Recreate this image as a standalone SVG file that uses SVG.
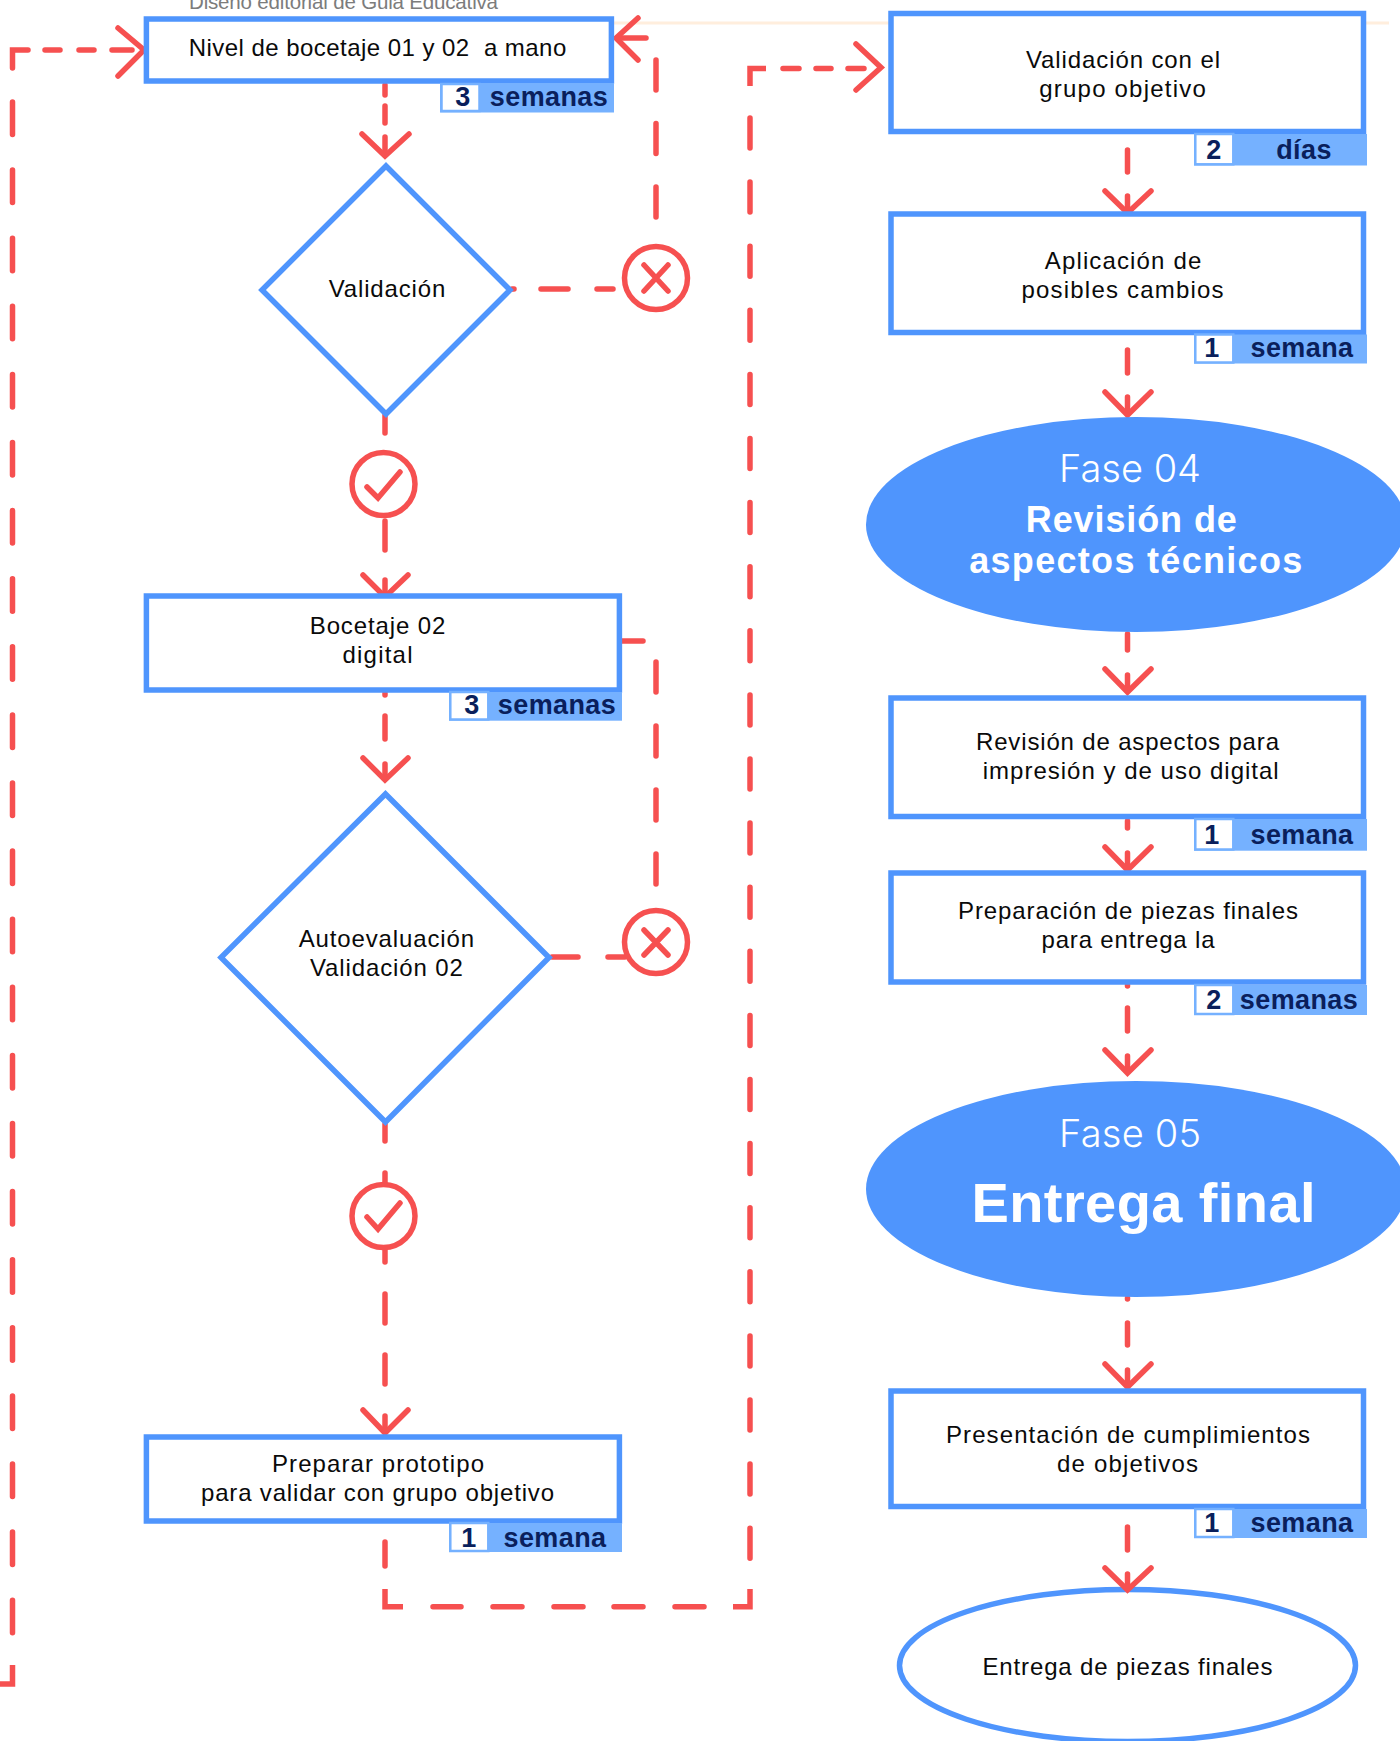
<svg xmlns="http://www.w3.org/2000/svg" width="1400" height="1741" viewBox="0 0 1400 1741">
<style>
text{font-family:"Liberation Sans",Arial,sans-serif;text-anchor:middle;fill:#0a0a0a;font-size:24px}
.box{fill:#fff;stroke:#4f95fd;stroke-width:5.5}
.bw{fill:#fff;stroke:#75b1ff;stroke-width:2.5}
.bb{fill:#75b1ff}
text.bt{font-weight:700;fill:#0a1f5c;font-size:27px;letter-spacing:.4px}
text.ph{fill:#fff;font-size:38px;font-family:Inter,"Liberation Sans",sans-serif;font-weight:300}
text.pb{fill:#fff;font-weight:700;font-size:36px}
.s{fill:none;stroke:#f65050;stroke-width:5.5;stroke-linecap:round;stroke-linejoin:miter}
.ci{fill:#fff;stroke:#f65050;stroke-width:5.5}
</style>
<rect width="1400" height="1741" fill="#fff"/>
<path d="M611 23H891M1364 23H1389" stroke="#ffeedd" stroke-width="3" fill="none"/>
<text x="343.5" y="8.5" style="font-size:20.5px;fill:#7c7c7c" textLength="309">Diseño editorial de Guia Educativa</text>
<g id="connectors">
<path class="s" style="stroke-linecap:butt" d="M0 1684H12.5V1665"/>
<path class="s" stroke-dasharray="32.5 35.6" d="M12.5 102V1634"/>
<path class="s" d="M12.5 68V50H28M45 50H60M79 50H94M112 50H132"/>
<path class="s" d="M118 28L144 50L118 76"/>
<path class="s" stroke-dasharray="30 33.5" d="M656 60V218"/>
<path class="s" d="M646 38H617"/>
<path class="s" d="M638 18L616 38L638 60"/>
<path class="s" d="M512 289H514M541 289H568M597 289H613"/>
<path class="s" d="M385 85V95M385 106V123M385 137V151"/>
<path class="s" d="M362 134L385 156L409 134"/>
<path class="s" d="M385 415V433M385 521V550M385 580V592"/>
<path class="s" d="M363 575L385 597L408 575"/>
<path class="s" d="M385 693V695M385 716V739M385 764V776"/>
<path class="s" d="M363 758L385 780L408 758"/>
<path class="s" d="M622 641H643"/>
<path class="s" stroke-dasharray="30 34" d="M656 662V885"/>
<path class="s" d="M552 957H578M608 957H625"/>
<path class="s" d="M385 1124V1141M385 1173V1183M385 1250V1262M385 1294V1323M385 1355V1384M385 1416V1429"/>
<path class="s" d="M363 1410L385 1433L408 1410"/>
<path class="s" stroke-dasharray="30 34.1" d="M750 118V1559"/>
<path class="s" style="stroke-linecap:butt" d="M385 1589V1606.7H403M750 1589V1606.7H733"/>
<path class="s" d="M385 1542V1566M433 1606.7H461M493 1606.7H522M554 1606.7H583M614 1606.7H643M675 1606.7H704"/>
<path class="s" style="stroke-linecap:butt" d="M750 86V68.5H766"/>
<path class="s" d="M783 68.5H799M816 68.5H831M848 68.5H864"/>
<path class="s" d="M856 44L881 67.5L856 90"/>
<path class="s" d="M1127.5 150V172M1127.5 196V209"/>
<path class="s" d="M1105 191L1127.5 213L1151 191"/>
<path class="s" d="M1127.5 350V373M1127.5 397V410"/>
<path class="s" d="M1105 392L1127.5 415L1151 392"/>
<path class="s" d="M1127.5 634V650M1127.5 675V686"/>
<path class="s" d="M1105 669L1127.5 692L1151 669"/>
<path class="s" d="M1127.5 821V828M1127.5 853V868"/>
<path class="s" d="M1105 847L1127.5 870L1151 847"/>
<path class="s" d="M1127.5 985V986M1127.5 1008V1031M1127.5 1056V1068"/>
<path class="s" d="M1105 1050L1127.5 1073L1151 1050"/>
<path class="s" d="M1127.5 1298V1299M1127.5 1323V1345M1127.5 1370V1383"/>
<path class="s" d="M1105 1364L1127.5 1387L1151 1364"/>
<path class="s" d="M1127.5 1527V1550"/>
</g>
<g id="n1"><rect class="box" x="146.400" y="19" width="465" height="62"/><rect class="bb" x="440" y="83" width="174" height="29.500"/><rect class="bw" x="441.500" y="84" width="38" height="27"/><text x="377.500" y="56" textLength="377.500" xml:space="preserve" style="white-space:pre">Nivel de bocetaje 01 y 02  a mano</text><text class="bt" x="463" y="106">3</text><text class="bt" x="549" y="106">semanas</text></g>
<g id="d1"><path class="box" d="M386 166L510 290L386 414L262 290Z"/><text x="387" y="297" textLength="116.600">Validación</text></g>
<g id="x1"><circle class="ci" cx="656" cy="278" r="31.500"/><path class="s" d="M644 265L668 291M668 265L644 291"/></g>
<g id="ok1"><circle class="ci" cx="383.500" cy="484" r="31.500"/><path class="s" d="M367 487L378 498L400 472"/></g>
<g id="n2"><rect class="box" x="146.400" y="596" width="473" height="94"/><rect class="bb" x="449" y="692" width="173" height="28.700"/><rect class="bw" x="450.300" y="692" width="38" height="27.500"/><text x="377.500" y="634" textLength="135.500">Bocetaje 02</text><text x="377.500" y="663" textLength="70">digital</text><text class="bt" x="472" y="714">3</text><text class="bt" x="557" y="714">semanas</text></g>
<g id="d2"><path class="box" d="M385.500 794L549 957.500L385.500 1122L221 957.500Z"/><text x="386.400" y="947" textLength="175.400">Autoevaluación</text><text x="386.400" y="976" textLength="153">Validación 02</text></g>
<g id="x2"><circle class="ci" cx="656" cy="942" r="31.500"/><path class="s" d="M644 930L668 955M668 930L644 955"/></g>
<g id="ok2"><circle class="ci" cx="383.500" cy="1216" r="31.500"/><path class="s" d="M367 1217L378 1229L400 1203"/></g>
<g id="n3"><rect class="box" x="146.400" y="1437" width="473" height="84"/><rect class="bb" x="449" y="1523" width="173" height="29"/><rect class="bw" x="450.300" y="1523" width="38" height="28"/><text x="378" y="1472" textLength="212">Preparar prototipo</text><text x="377.500" y="1501" textLength="353">para validar con grupo objetivo</text><text class="bt" x="469" y="1547">1</text><text class="bt" x="555" y="1547">semana</text></g>
<g id="n4"><rect class="box" x="891" y="13.500" width="472.500" height="118"/><rect class="bb" x="1194" y="134" width="173" height="31.500"/><rect class="bw" x="1195.300" y="134" width="38" height="30.300"/><text x="1123" y="68" textLength="194">Validación con el</text><text x="1122.500" y="97" textLength="166.500">grupo objetivo</text><text class="bt" x="1214" y="159">2</text><text class="bt" x="1304" y="159">días</text></g>
<g id="n5"><rect class="box" x="891" y="214" width="472.500" height="118.500"/><rect class="bb" x="1194" y="334.500" width="173" height="29"/><rect class="bw" x="1195.300" y="334.500" width="38" height="28"/><text x="1123" y="269" textLength="156.500">Aplicación de</text><text x="1122.500" y="298" textLength="202">posibles cambios</text><text class="bt" x="1212" y="357">1</text><text class="bt" x="1302" y="357">semana</text></g>
<g id="f4"><ellipse cx="1136" cy="524.500" rx="270" ry="107.500" fill="#4f95fd"/><text class="ph" x="1130" y="482" textLength="142">Fase 04</text><text class="pb" x="1131.300" y="532" textLength="211">Revisión de</text><text class="pb" x="1135.700" y="573" textLength="333">aspectos técnicos</text></g>
<g id="n6"><rect class="box" x="891" y="698" width="472.500" height="118.500"/><rect class="bb" x="1194" y="819" width="173" height="31.700"/><rect class="bw" x="1195.300" y="819" width="38" height="30.500"/><text x="1127.500" y="750" textLength="303">Revisión de aspectos para</text><text x="1130.700" y="779" textLength="296">impresión y de uso digital</text><text class="bt" x="1212" y="844">1</text><text class="bt" x="1302" y="844">semana</text></g>
<g id="n7"><rect class="box" x="891" y="873" width="472.500" height="109"/><rect class="bb" x="1194" y="985" width="173" height="30"/><rect class="bw" x="1195.300" y="985" width="38" height="29"/><text x="1128" y="919" textLength="340">Preparación de piezas finales</text><text x="1128" y="948" textLength="173">para entrega la</text><text class="bt" x="1214" y="1009">2</text><text class="bt" x="1299" y="1009">semanas</text></g>
<g id="f5"><ellipse cx="1136" cy="1189" rx="270" ry="108" fill="#4f95fd"/><text class="ph" x="1130" y="1147" textLength="142">Fase 05</text><text class="pb" x="1143.500" y="1222" style="font-size:56px" textLength="344">Entrega final</text></g>
<g id="n8"><rect class="box" x="891" y="1391" width="472.500" height="115.500"/><rect class="bb" x="1194" y="1509" width="173" height="29"/><rect class="bw" x="1195.300" y="1509" width="38" height="28"/><text x="1128" y="1443" textLength="364">Presentación de cumplimientos</text><text x="1127.500" y="1472" textLength="141">de objetivos</text><text class="bt" x="1212" y="1532">1</text><text class="bt" x="1302" y="1532">semana</text></g>
<g id="n9"><ellipse class="box" cx="1127.500" cy="1665.500" rx="228" ry="76"/><text x="1127.500" y="1675" textLength="290">Entrega de piezas finales</text></g>
<g id="connectors-top">
<path class="s" d="M1127.500 1574V1586"/>
<path class="s" d="M1105 1568L1127.500 1590L1151 1568"/>
</g>
</svg>
